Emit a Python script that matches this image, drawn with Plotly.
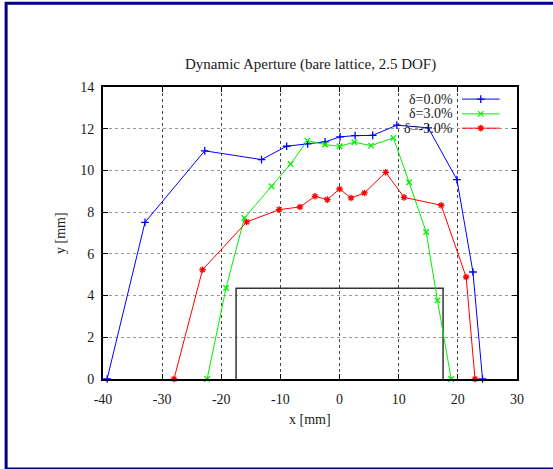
import plotly.graph_objects as go

# ---- data ----
x_d0 = [-39.3, -32.9, -22.8, -13.2, -8.95, -5.4, -2.46, 0.08, 2.62, 5.6, 9.68, 15.0, 19.84, 22.55, 24.17]
y_d0 = [0.0, 7.51, 10.94, 10.52, 11.16, 11.27, 11.37, 11.61, 11.67, 11.68, 12.17, 12.04, 9.56, 5.13, 0.0]

x_dp3 = [-22.4, -19.2, -16.1, -11.5, -8.27, -5.45, -2.46, 0.0, 2.5, 5.33, 9.1, 11.76, 14.64, 16.55, 18.87]
y_dp3 = [0.0, 4.36, 7.72, 9.24, 10.31, 11.43, 11.24, 11.16, 11.35, 11.19, 11.56, 9.43, 7.05, 3.77, 0.0]

x_dm3 = [-28.0, -23.17, -15.7, -10.2, -6.7, -4.15, -2.07, 0.0, 1.94, 4.2, 7.8, 10.9, 17.18, 21.4, 22.9]
y_dm3 = [0.0, 5.24, 7.53, 8.12, 8.25, 8.76, 8.6, 9.11, 8.68, 8.92, 9.91, 8.71, 8.33, 4.89, 0.0]

rect_x = [-17.5, -17.5, 17.5, 17.5]
rect_y = [0.0, 4.35, 4.35, 0.0]

labels = ["δ=0.0%", "δ=3.0%", "δ=-3.0%"]
colors = ["#0000ff", "#00ee00", "#ff0000"]
symbols = ["cross-thin-open", "x-thin-open", "asterisk-open"]

x_ticks = [-40, -30, -20, -10, 0, 10, 20, 30]
x_ticktext = ["-40", "-30", "-20", "-10", "0", "10", "20", "30"]
y_ticks = [0, 2, 4, 6, 8, 10, 12, 14]
y_ticktext = ["0", "2", "4", "6", "8", "10", "12", "14"]

FONT = "Liberation Serif"
TXT = "#1a1a1a"
MSIZE = 5.5

fig = go.Figure()

fig.add_trace(go.Scatter(x=rect_x, y=rect_y, mode="lines",
                         line=dict(color="#333333", width=1.5),
                         showlegend=False, hoverinfo="skip"))

series = [(x_d0, y_d0), (x_dp3, y_dp3), (x_dm3, y_dm3)]
for (xs, ys), lab, col, sym in zip(series, labels, colors, symbols):
    fig.add_trace(go.Scatter(
        x=xs, y=ys, mode="lines+markers", name=lab,
        line=dict(color=col, width=1),
        marker=dict(symbol=sym, size=MSIZE, color=col, line=dict(color=col, width=1.3)),
        cliponaxis=False, showlegend=False))

# manual gnuplot-style key (text left, sample right) on overlay axes
key_rows = [0.9586, 0.908, 0.859]
for lab, col, sym, ky in zip(labels, colors, symbols, key_rows):
    fig.add_trace(go.Scatter(
        x=[0.867, 0.958], y=[ky, ky], xaxis="x2", yaxis="y2", mode="lines",
        line=dict(color=col, width=1), showlegend=False, hoverinfo="skip"))
    fig.add_trace(go.Scatter(
        x=[0.9125], y=[ky], xaxis="x2", yaxis="y2", mode="markers",
        marker=dict(symbol=sym, size=MSIZE, color=col, line=dict(color=col, width=1.3)),
        showlegend=False, hoverinfo="skip", cliponaxis=False))
    fig.add_annotation(x=0.851, y=ky, xref="paper", yref="paper", text=lab,
                       showarrow=False, xanchor="right", yanchor="middle",
                       font=dict(family=FONT, size=14, color=TXT))

axis_common = dict(showline=True, linecolor="black", linewidth=2, mirror="ticks",
                   ticks="inside", ticklen=5, tickcolor="black", tickwidth=1,
                   showgrid=True, griddash="dot", gridwidth=1, zeroline=False,
                   tickfont=dict(family=FONT, size=14, color=TXT))

fig.update_layout(
    width=553, height=469,
    margin=dict(l=103, r=36, t=87, b=90, autoexpand=False),
    paper_bgcolor="white", plot_bgcolor="white",
    showlegend=False,
    xaxis=dict(range=[-40, 30], tickvals=x_ticks, ticktext=x_ticktext, gridcolor="#444444",
               ticklabelstandoff=6, **axis_common),
    yaxis=dict(range=[0, 14], tickvals=y_ticks, ticktext=y_ticktext, gridcolor="#999999",
               ticklabelstandoff=4, **axis_common),
    xaxis2=dict(range=[0, 1], overlaying="x", visible=False, fixedrange=True),
    yaxis2=dict(range=[0, 1], overlaying="y", visible=False, fixedrange=True),
)

fig.add_annotation(x=0.5, y=1.077, xref="paper", yref="paper",
                   text="Dynamic Aperture (bare lattice, 2.5 DOF)", showarrow=False,
                   xanchor="center", yanchor="middle",
                   font=dict(family=FONT, size=15, color=TXT))
fig.add_annotation(x=0.5, y=-0.137, xref="paper", yref="paper", text="x [mm]",
                   showarrow=False, xanchor="center", yanchor="middle",
                   font=dict(family=FONT, size=14, color=TXT))
fig.add_annotation(x=-0.104, y=0.5, xref="paper", yref="paper", text="y [mm]",
                   showarrow=False, xanchor="center", yanchor="middle", textangle=-90,
                   font=dict(family=FONT, size=14, color=TXT))

# navy outer frame (partly cut off at right/bottom, as in the reference)
fig.add_shape(type="rect", xref="paper", yref="paper",
              x0=-0.234, x1=1.11, y0=-0.308, y1=1.287,
              line=dict(color="#000080", width=3), layer="above")

fig.write_html("out.html")
